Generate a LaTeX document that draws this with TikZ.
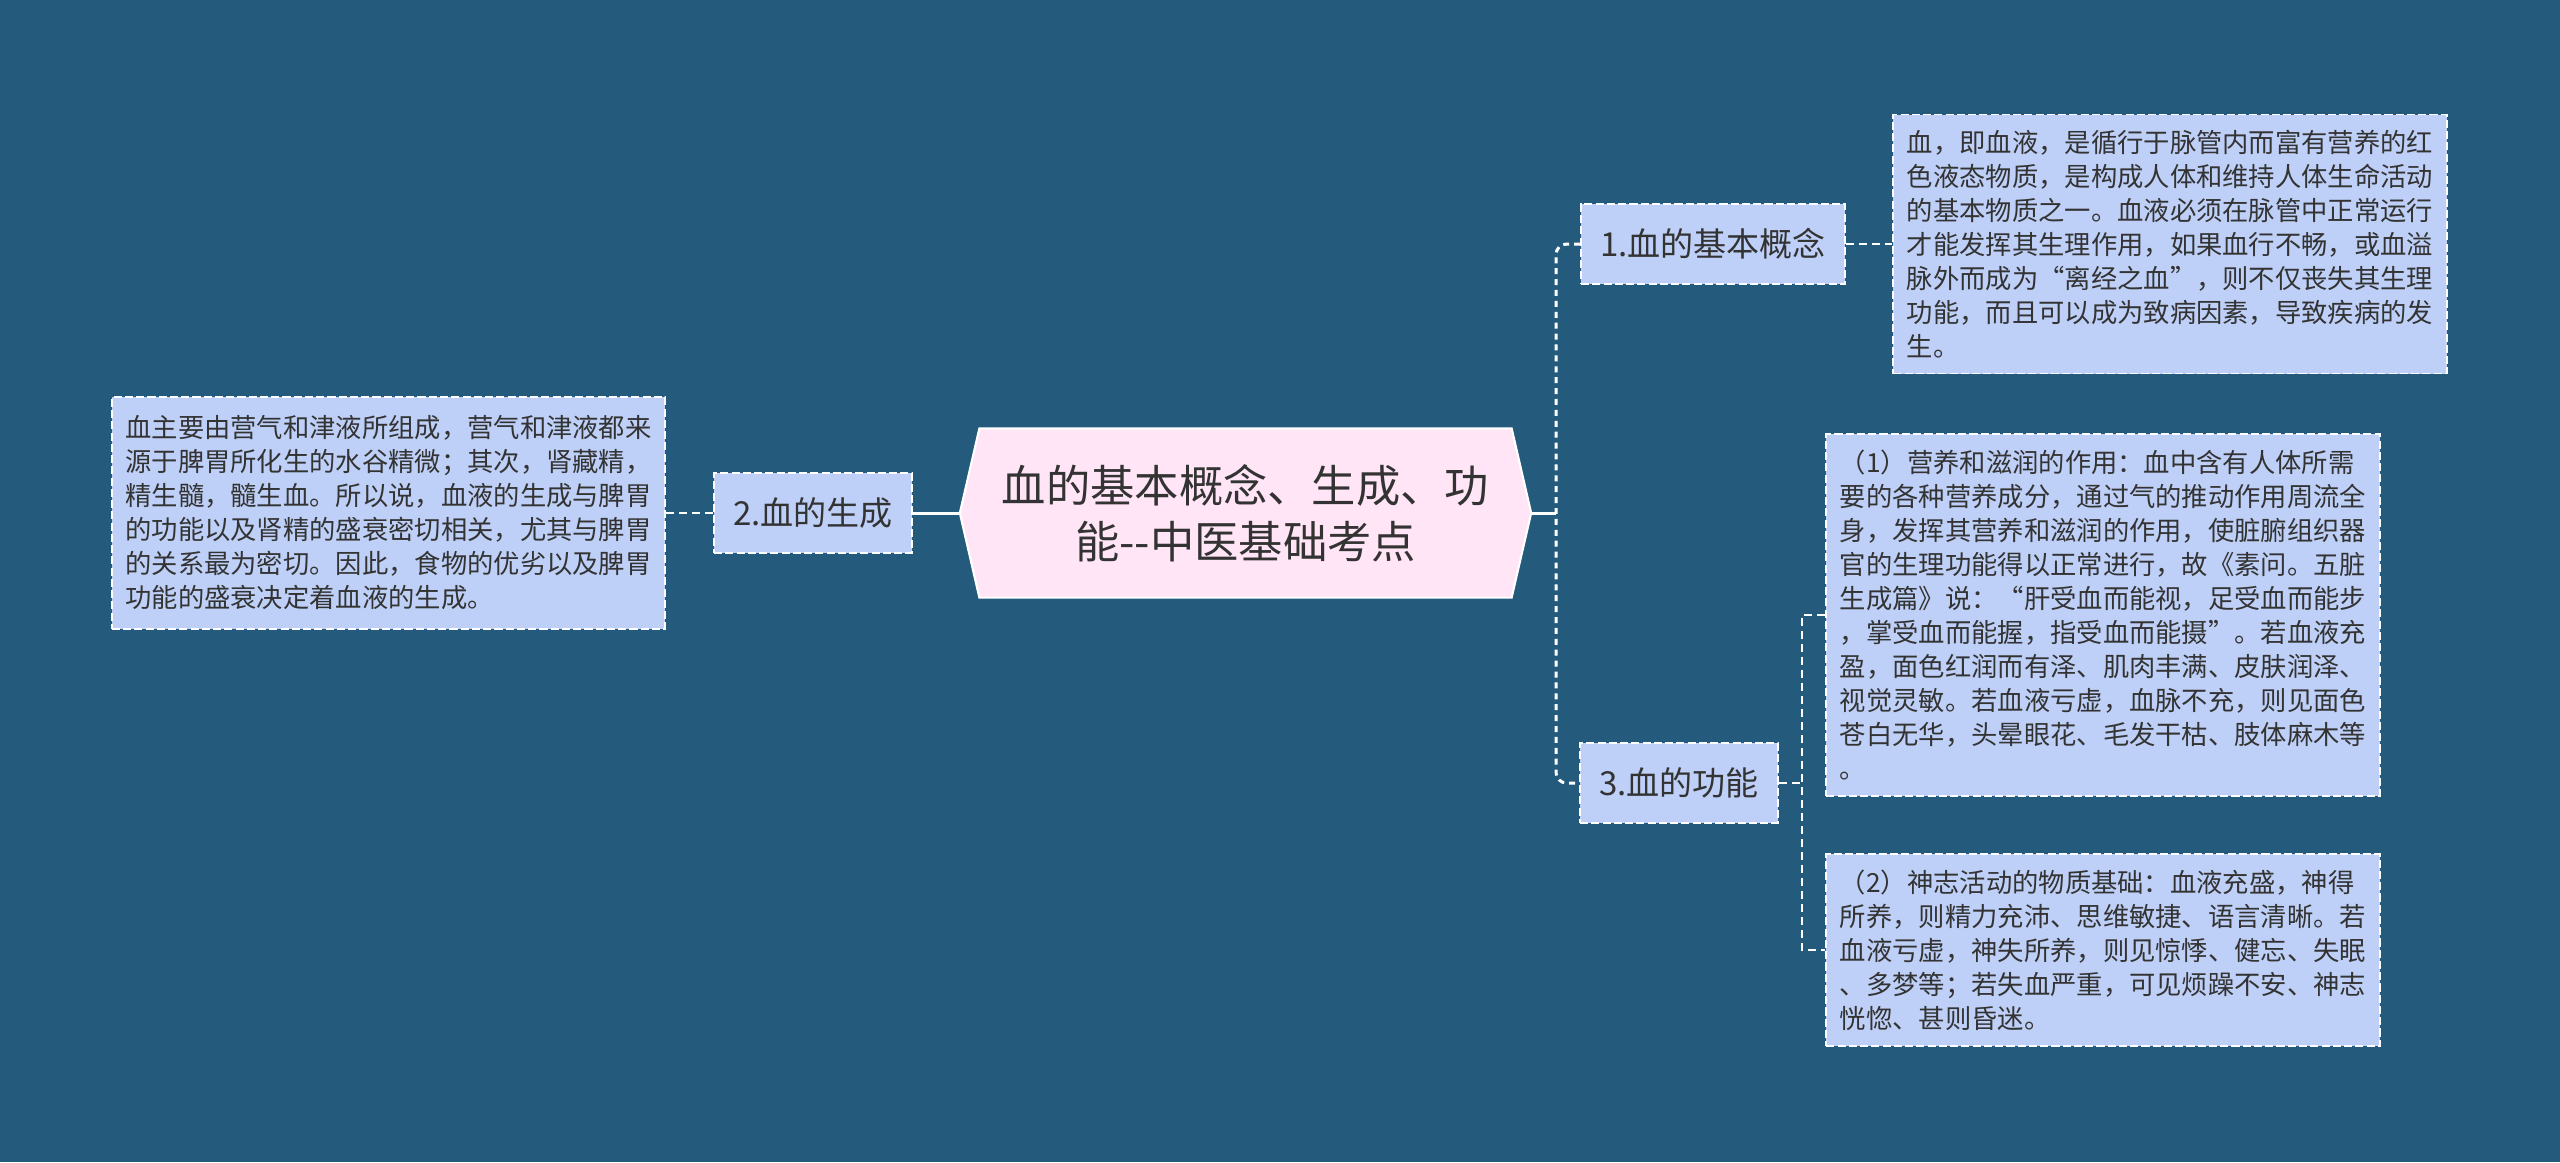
\documentclass[tikz,border=0pt]{standalone}
\usepackage{fontspec}
\setmainfont{Noto Sans CJK SC}
\usetikzlibrary{shapes.symbols}
\definecolor{bgblue}{HTML}{245A7C}
\definecolor{boxblue}{HTML}{BED0F7}
\definecolor{rootpink}{HTML}{FFE5F6}
\definecolor{inkgray}{HTML}{333333}
\tikzset{
  rootnode/.style={signal, signal to=west and east, signal pointer angle=154,
    draw=white, line width=0.6pt, fill=rootpink, text=inkgray, align=center,
    font=\fontsize{12.6pt}{15.8pt}\selectfont,
    minimum width=5.71cm, minimum height=1.69cm, inner sep=0pt},
  topicbox/.style={draw=white, line width=0.55pt, dash pattern=on 2.3pt off 0.9pt,
    fill=boxblue, text=inkgray, font=\fontsize{9.4pt}{11pt}\selectfont,
    minimum height=0.8cm, inner xsep=0.19cm},
  notebox/.style={draw=white, line width=0.55pt, dash pattern=on 2.3pt off 0.9pt,
    fill=boxblue, text=inkgray, align=left, font=\fontsize{7.48pt}{9.67pt}\selectfont,
    minimum width=5.53cm, inner xsep=0.12cm, inner ysep=0.155cm},
  trunkline/.style={white, line width=0.85pt, dash pattern=on 1.7pt off 1.4pt},
  twigline/.style={white, line width=0.55pt, dash pattern=on 2.3pt off 1.4pt},
  stemline/.style={white, line width=0.85pt}
}
\begin{document}
\begin{tikzpicture}[x=0.01cm,y=-0.01cm]
  \fill[bgblue] (0,0) rectangle (2560,1162);
  \useasboundingbox (0,0) rectangle (2560,1162);

  \node[rootnode] (root) at (1245.5,513) {血的基本概念、生成、功\\能-{}-中医基础考点};

  \node[topicbox] (t1) at (1713,244) {1.血的基本概念};
  \node[topicbox] (t2) at (813,513) {2.血的生成};
  \node[topicbox] (t3) at (1679,783) {3.血的功能};

  \node[notebox] (n1) at (2170,244) {血，即血液，是循行于脉管内而富有营养的红\\
    色液态物质，是构成人体和维持人体生命活动\\
    的基本物质之一。血液必须在脉管中正常运行\\
    才能发挥其生理作用，如果血行不畅，或血溢\\
    脉外而成为“离经之血”，则不仅丧失其生理\\
    功能，而且可以成为致病因素，导致疾病的发\\
    生。};
  \node[notebox,minimum height=2.31cm] (n2) at (388.5,513) {血主要由营气和津液所组成，营气和津液都来\\
    源于脾胃所化生的水谷精微；其次，肾藏精，\\
    精生髓，髓生血。所以说，血液的生成与脾胃\\
    的功能以及肾精的盛衰密切相关，尤其与脾胃\\
    的关系最为密切。因此，食物的优劣以及脾胃\\
    功能的盛衰决定着血液的生成。};
  \node[notebox] (n3a) at (2103,615) {（1）营养和滋润的作用：血中含有人体所需\\
    要的各种营养成分，通过气的推动作用周流全\\
    身，发挥其营养和滋润的作用，使脏腑组织器\\
    官的生理功能得以正常进行，故《素问。五脏\\
    生成篇》说：“肝受血而能视，足受血而能步\\
    ，掌受血而能握，指受血而能摄”。若血液充\\
    盈，面色红润而有泽、肌肉丰满、皮肤润泽、\\
    视觉灵敏。若血液亏虚，血脉不充，则见面色\\
    苍白无华，头晕眼花、毛发干枯、肢体麻木等\\
    。};
  \node[notebox] (n3b) at (2103,950) {（2）神志活动的物质基础：血液充盛，神得\\
    所养，则精力充沛、思维敏捷、语言清晰。若\\
    血液亏虚，神失所养，则见惊悸、健忘、失眠\\
    、多梦等；若失血严重，可见烦躁不安、神志\\
    恍惚、甚则昏迷。};

  \coordinate (jR) at (1556,513);
  \coordinate (jF) at (1802,783);

  \draw[stemline] (root.east) -- (jR);
  \draw[trunkline,rounded corners=3] (t1.west) -- (t1.west -| jR) -- (t3.west -| jR) -- (t3.west);
  \draw[twigline] (t1.east) -- (n1.west);
  \draw[twigline] (t3.east) -- (jF);
  \draw[twigline] (n3a.west) -- (n3a.west -| jF) -- (n3b.west -| jF) -- (n3b.west);
  \draw[stemline] (root.west) -- (t2.east);
  \draw[twigline] (t2.west) -- (n2.east);
\end{tikzpicture}
\end{document}
